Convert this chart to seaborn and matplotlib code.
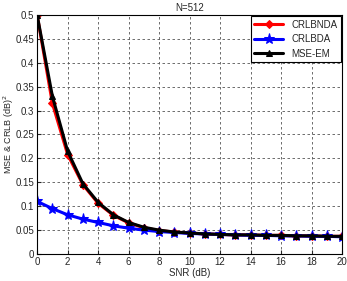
import numpy as np
import pandas as pd
import matplotlib
matplotlib.use("Agg")
import matplotlib.pyplot as plt
import seaborn as sns

# datos
snr = list(range(0, 21))
crlb_nda = [0.5, 0.315, 0.208, 0.145, 0.106, 0.081, 0.065, 0.055, 0.049, 0.046, 0.044,
            0.042, 0.041, 0.040, 0.040, 0.039, 0.039, 0.038, 0.038, 0.037, 0.037]
crlb_da = [0.11, 0.095, 0.082, 0.073, 0.066, 0.059, 0.054, 0.050, 0.047, 0.045, 0.043,
           0.042, 0.041, 0.040, 0.039, 0.039, 0.038, 0.038, 0.037, 0.037, 0.036]
mse_em = [0.5, 0.33, 0.215, 0.147, 0.108, 0.082, 0.066, 0.056, 0.050, 0.046, 0.044,
          0.042, 0.041, 0.040, 0.040, 0.039, 0.039, 0.038, 0.038, 0.037, 0.037]

sns.set_style("white")
plt.rcParams["font.family"] = ["Liberation Sans", "DejaVu Sans"]

fig = plt.figure(figsize=(3.47, 2.81), dpi=100)
ax = fig.add_axes([0.107, 0.096, 0.879, 0.851])

series = [
    ("CRLBNDA", crlb_nda, "red", "D", 4),
    ("CRLBDA", crlb_da, "blue", "*", 8),
    ("MSE-EM", mse_em, "black", "^", 5),
]
for name, vals, color, mk, ms in series:
    df = pd.DataFrame({"SNR": snr, "valor": vals})
    sns.lineplot(data=df, x="SNR", y="valor", ax=ax, color=color, marker=mk,
                 markersize=ms, markeredgecolor=color, linewidth=2.2, label=name)

ax.set_xlim(0, 20)
ax.set_ylim(0, 0.5)
ax.set_xticks(np.arange(0, 21, 2))
ax.set_yticks(np.arange(0, 0.51, 0.05))
ax.set_yticklabels(["0", "0.05", "0.1", "0.15", "0.2", "0.25", "0.3", "0.35", "0.4", "0.45", "0.5"])
ax.tick_params(labelsize=7, direction="in", length=3, pad=2, left=True, bottom=True)
ax.grid(True, linestyle="--", color="#555555", linewidth=0.6, dashes=(3, 3))
for s in ax.spines.values():
    s.set_color("black")
    s.set_linewidth(0.8)

ax.set_xlabel("SNR (dB)", fontsize=7, labelpad=1)
ax.set_ylabel("MSE & CRLB (dB)$^2$", fontsize=6.5)
ax.yaxis.set_label_coords(-0.068, 0.5)
ax.set_title("N=512", fontsize=7, pad=3)

leg = ax.legend(loc="upper right", fontsize=7, fancybox=False, framealpha=1,
                edgecolor="black", borderaxespad=0.15, handlelength=3.0,
                labelspacing=0.45, borderpad=0.35)
leg.get_frame().set_linewidth(0.8)

fig.savefig("out.png", dpi=100)
